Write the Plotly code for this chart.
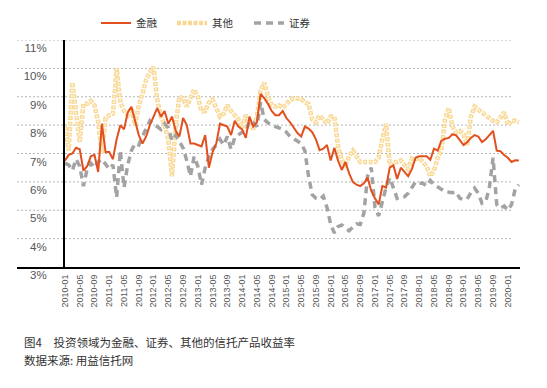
import plotly.graph_objects as go

# month categories 2010-01 .. 2020-04
months = [f"{y}-{m:02d}" for y in range(2010, 2021) for m in range(1, 13)][:124]
tick_months = months[:121:4]

finance = [6.75, 6.95, 7.0, 7.2, 7.15, 6.4, 6.55, 6.9, 6.95, 6.35,
           8.05, 7.05, 7.05, 6.8, 7.5, 8.0, 7.85, 8.45, 8.65, 8.1,
           7.65, 7.35, 7.6, 8.0, 8.3, 8.6, 8.3, 8.5, 8.05, 8.3,
           7.8, 7.6, 8.25, 8.0, 7.35, 7.35, 7.3, 7.25, 7.65, 6.5,
           7.05, 7.35, 8.05, 8.0, 7.95, 7.65, 8.15, 7.95, 7.85, 7.55,
           8.3, 7.95, 8.1, 9.1, 8.95, 8.75, 8.5, 8.35, 8.35, 8.5,
           8.25, 8.1, 7.9, 7.72, 7.6, 7.95, 7.88, 7.75, 7.5, 7.12,
           7.17, 7.3, 6.75, 7.2, 6.75, 6.42, 6.7, 6.3, 6.0, 5.9,
           5.85, 5.95, 6.15, 5.68, 5.42, 5.2, 5.85, 5.8, 6.5, 6.58,
           6.1, 6.5, 6.35, 6.2, 6.45, 6.85, 6.9, 6.9, 6.9, 6.78,
           7.17, 7.1, 7.45, 7.52, 7.55, 7.68, 7.64, 7.47, 7.3, 7.4,
           7.55, 7.65, 7.6, 7.4, 7.5, 7.65, 7.8, 7.1, 7.08, 6.95,
           6.85, 6.7, 6.76, 6.75]

other = [7.95, 7.1, 9.5, 8.4, 7.4, 8.75, 8.75, 8.85, 8.7, 8.1,
         7.0, 8.25, 8.35, 8.4, 10.0, 8.8, 8.5, 8.35, 8.6, 8.0,
         8.7, 9.1, 9.6, 9.85, 10.05, 8.9, 8.3, 8.0, 7.5, 6.2,
         8.0, 9.0, 8.95, 8.65, 9.0, 9.25, 9.0, 8.48, 8.5, 8.8,
         8.9, 8.6, 8.3, 8.4, 8.7, 8.5, 8.36, 8.2, 7.9, 8.36,
         8.1, 7.85, 8.3, 9.2, 9.5, 9.0, 8.7, 8.65, 8.7, 8.6,
         8.75, 8.88, 8.95, 8.95, 8.92, 8.8, 8.75, 8.2, 8.1, 8.34,
         8.22, 8.05, 8.3, 8.3, 7.25, 6.76, 6.6, 6.9, 7.1, 6.9,
         6.7, 6.7, 6.72, 6.7, 6.7, 6.85, 7.5, 8.05, 6.6, 6.7,
         6.7, 6.76, 6.6, 6.45, 6.82, 6.8, 6.85, 6.7, 6.55, 6.2,
         6.4, 6.85, 7.1, 8.2, 8.6, 7.95, 7.75, 7.8, 7.68, 7.3,
         8.3, 8.65, 8.55, 8.45, 8.39, 8.25, 8.15, 8.1, 8.3, 8.45,
         8.0, 8.15, 8.15, 8.1]

securities = [6.66, 6.6, 6.4, 6.8, 6.55, 5.85, 6.45, 6.66, 6.5, 6.7,
              6.8, 6.6, 6.45, 6.6, 5.45, 7.1, 5.8, 6.6, 7.1, 7.36,
              7.3, 7.6, 7.9, 8.15, 8.0, 7.95, 7.85, 8.05, 7.9, 7.45,
              7.65, 7.45, 7.2, 6.75, 6.2, 6.9, 6.55, 5.9, 6.5, 6.9,
              7.15, 7.3, 7.5, 7.3, 7.6, 7.15, 7.55, 7.66, 7.75, 7.75,
              8.15, 8.1, 7.95, 8.8, 8.2, 8.08, 8.0, 7.95, 7.9, 7.85,
              7.75, 7.6, 7.52, 7.45, 7.35, 7.1, 6.2, 5.55, 5.42, 5.38,
              5.5, 5.1, 4.5, 4.2, 4.42, 4.48, 4.38, 4.28, 4.4, 4.52,
              4.5, 4.9, 6.2, 6.5, 5.1, 4.8, 5.3, 5.8, 6.15, 5.75,
              5.42, 5.48, 5.48, 5.6, 5.83, 6.0, 5.95, 5.95, 5.85, 6.05,
              5.9, 5.83, 5.74, 5.65, 5.62, 5.62, 5.65, 5.42, 5.38, 5.4,
              5.62, 5.78, 5.6, 5.25, 5.3, 5.8, 6.85, 5.2, 5.07, 5.15,
              5.0, 5.2, 5.75, 5.9]

y_ticks = [3, 4, 5, 6, 7, 8, 9, 10, 11]
y_ticktext = [f"{v}%" for v in y_ticks]

# page body has an 8px margin; figure is sized to fit inside the window
OFF = 8
W, H = 547 - 2 * OFF, 388 - 2 * OFF
# target pixel positions in the window
P_LEFT, P_RIGHT, P_TOP, P_BOTTOM = 17, 520, 40, 267.5
L = P_LEFT - OFF
R = W - (P_RIGHT - OFF)
T = P_TOP - OFF
B = H - (P_BOTTOM - OFF)
plot_w = W - L - R
plot_h = H - T - B
axis_px = 64


def px_x(x):
    return (x - P_LEFT) / plot_w


def px_y(y):
    return (P_BOTTOM - y) / plot_h


fig = go.Figure()
fig.add_trace(go.Scatter(x=months, y=other, name="其他", mode="lines", legend="legend2",
                         line=dict(color="#F8D894", width=4.5, dash="4px,1.5px")))
fig.add_trace(go.Scatter(x=months, y=other, name="其他", mode="lines", showlegend=False,
                         hoverinfo="skip",
                         line=dict(color="#FEF3D8", width=1.8, dash="0px,1px,2px,2.5px")))
fig.add_trace(go.Scatter(x=months, y=securities, name="证券", mode="lines", legend="legend3",
                         line=dict(color="#A3A3A3", width=3.5, dash="7px,5px")))
fig.add_trace(go.Scatter(x=months, y=finance, name="金融", mode="lines", legend="legend",
                         line=dict(color="#E2501F", width=2)))

# dashed horizontal gridlines at each y tick (extend left of the y axis, Excel style)
for v in y_ticks[1:]:
    fig.add_shape(type="line", xref="paper", yref="y", x0=0, x1=px_x(513),
                  y0=v, y1=v, layer="below",
                  line=dict(color="#B5B5B5", width=1, dash="2px,2px"))

leg_common = dict(orientation="h", xref="paper", yref="paper", y=px_y(23),
                  xanchor="left", yanchor="middle",
                  font=dict(size=10.5, color="#333",
                            family="Noto Sans CJK SC, Liberation Sans, sans-serif"),
                  bgcolor="rgba(0,0,0,0)", itemwidth=30)

fig.update_layout(
    width=W, height=H,
    margin=dict(l=L, r=R, t=T, b=B, autoexpand=False),
    paper_bgcolor="white", plot_bgcolor="white",
    font=dict(family="Liberation Sans, Arial, sans-serif", color="#444"),
    showlegend=True,
    legend=dict(x=px_x(96), **leg_common),
    legend2=dict(x=px_x(172), **leg_common),
    legend3=dict(x=px_x(249), **leg_common),
    xaxis=dict(type="category", range=[-13.0, 123.3], automargin=False,
               tickmode="array", tickvals=tick_months, ticktext=tick_months,
               tickangle=-90, tickfont=dict(size=9, color="#555"),
               showgrid=False, showline=True, linecolor="black", linewidth=2,
               ticks="", zeroline=False, ticklabelstandoff=2),
    yaxis=dict(range=[3, 11], tickmode="array", tickvals=y_ticks, ticktext=y_ticktext,
               anchor="free", position=px_x(axis_px), automargin=False,
               showline=True, linecolor="black", linewidth=2,
               showgrid=False, zeroline=False, ticks="",
               tickfont=dict(size=11.5, color="#555"),
               ticklabelstandoff=14, ticklabelshift=8),
    annotations=[
        dict(text="图4　投资领域为金融、证券、其他的信托产品收益率", xref="paper", yref="paper",
             x=px_x(22), y=px_y(343), xanchor="left", yanchor="middle",
             showarrow=False, font=dict(size=11.5, color="#333", family="Noto Sans CJK SC")),
        dict(text="数据来源: 用益信托网", xref="paper", yref="paper",
             x=px_x(22), y=px_y(361), xanchor="left", yanchor="middle",
             showarrow=False, font=dict(size=11.5, color="#333", family="Noto Sans CJK SC")),
    ],
)

fig.write_html("out.html")
